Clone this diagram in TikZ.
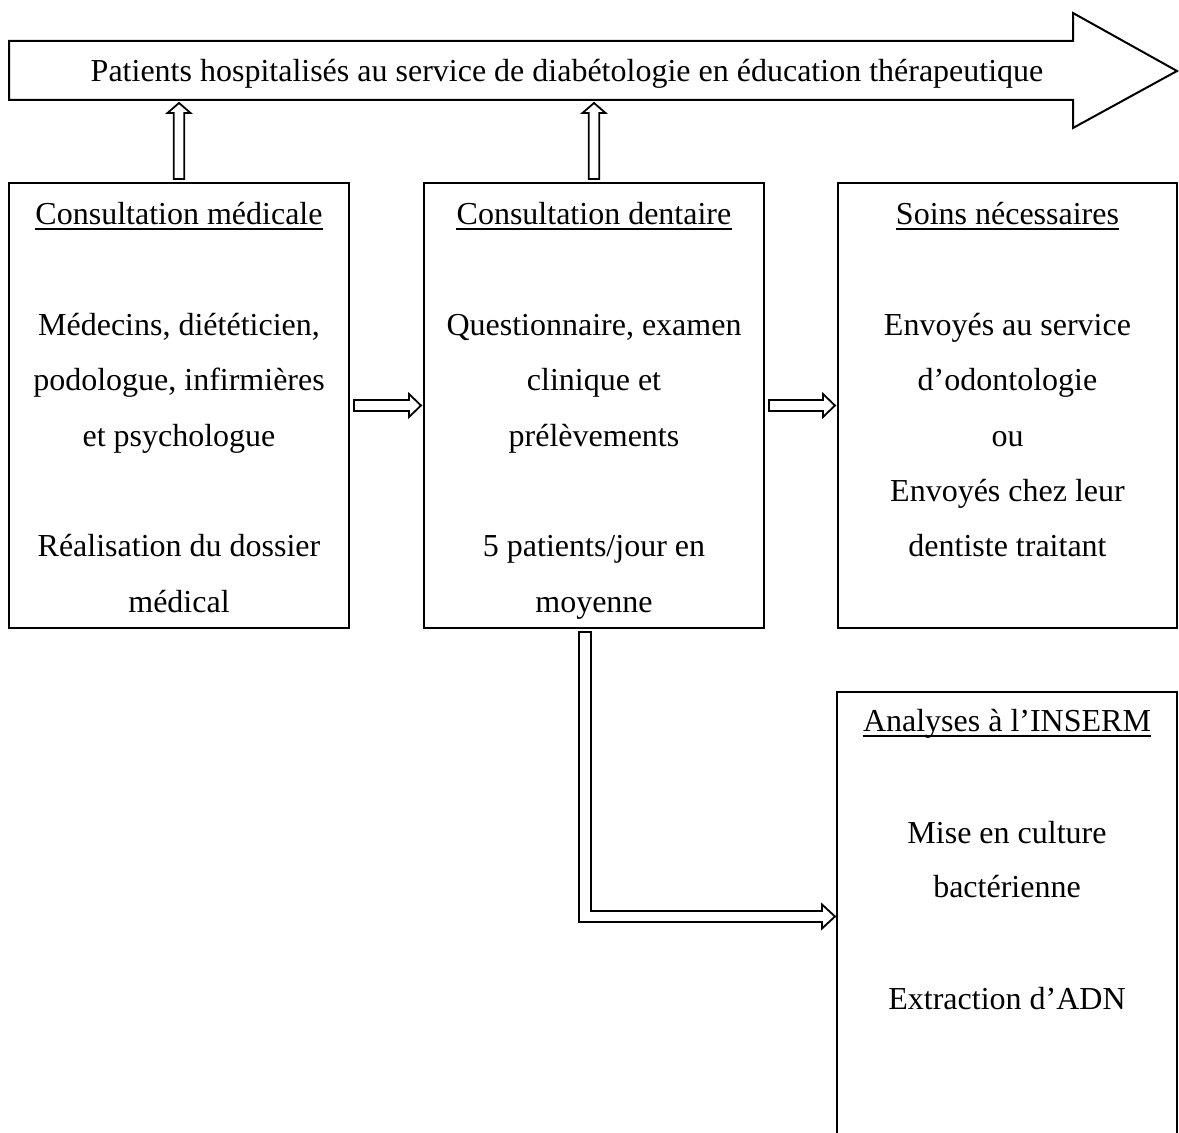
\documentclass[tikz,border=0pt]{standalone}
\usepackage{fontspec}
\setmainfont{Liberation Serif}
\usetikzlibrary{calc}
\begin{document}
\begin{tikzpicture}[x=0.5pt,y=-0.5pt,line join=miter,
  box/.style={draw,line width=1pt,minimum width=170pt,minimum height=222.5pt,inner sep=0pt},
  txt/.style={inner sep=0pt,font=\fontsize{16}{19}\selectfont,anchor=base},
  uline/.style={line width=0.7pt},
  blk/.style={draw,line width=0.9pt,fill=white}]
\useasboundingbox (0,0) rectangle (1179,1133);
\clip (0,0) rectangle (1179,1133);

% top arrow
\draw[line width=1pt] (9,41) -- (1073,41) -- (1073,13) -- (1177,71) -- (1073,128) -- (1073,100) -- (9,100) -- cycle;
\node[txt] (pat) at (567,82) {Patients hospitalisés au service de diabétologie en éducation thérapeutique};
\coordinate (topedge) at (0,100);

% boxes
\node[box] (b1) at (179,405.5) {};
\node[box] (b2) at (594,405.5) {};
\node[box,minimum width=169.5pt] (b3) at (1007.5,405.5) {};
\node[box,minimum height=228pt] (b4) at (1007,920) {};

% box 1
\node[txt] (t1) at (179,225) {Consultation médicale};
\draw[uline] ([yshift=-2pt]t1.base west) -- ([yshift=-2pt]t1.base east);
\node[txt] (a1) at (179,335.6) {Médecins, diététicien,};
\node[txt] (a2) at (179,391) {podologue, infirmières};
\node[txt] (a3) at (179,446.3) {et psychologue};
\node[txt] (a4) at (179,557) {Réalisation du dossier};
\node[txt] (a5) at (179,612.3) {médical};

% box 2
\node[txt] (t2) at (594,225) {Consultation dentaire};
\draw[uline] ([yshift=-2pt]t2.base west) -- ([yshift=-2pt]t2.base east);
\node[txt] (c1) at (594,335.6) {Questionnaire, examen};
\node[txt] (c2) at (594,391) {clinique et};
\node[txt] (c3) at (594,446.3) {prélèvements};
\node[txt] (c4) at (594,557) {5 patients/jour en};
\node[txt] (c5) at (594,612.3) {moyenne};

% box 3
\node[txt] (t3) at (1007.5,225) {Soins nécessaires};
\draw[uline] ([yshift=-2pt]t3.base west) -- ([yshift=-2pt]t3.base east);
\node[txt] (s1) at (1007.5,335.6) {Envoyés au service};
\node[txt] (s2) at (1007.5,391) {d’odontologie};
\node[txt] (s3) at (1007.5,446.3) {ou};
\node[txt] (s4) at (1007.5,501.6) {Envoyés chez leur};
\node[txt] (s5) at (1007.5,557) {dentiste traitant};

% box 4
\node[txt] (t4) at (1007,732) {Analyses à l’INSERM};
\draw[uline] ([yshift=-2pt]t4.base west) -- ([yshift=-2pt]t4.base east);
\node[txt] (i1) at (1007,843) {Mise en culture};
\node[txt] (i2) at (1007,898) {bactérienne};
\node[txt] (i3) at (1007,1009) {Extraction d’ADN};

% up arrows
\foreach \b in {b1,b2}{
  \draw[blk] let \p1=([yshift=1.5pt]\b.north), \p2=($(\b.north |- topedge)+(0,3)$) in
    (\x1-2.6pt,\y1) -- (\x1-2.6pt,\y2-5pt) -- (\x1-5.75pt,\y2-5pt) -- (\x1,\y2)
    -- (\x1+5.75pt,\y2-5pt) -- (\x1+2.6pt,\y2-5pt) -- (\x1+2.6pt,\y1) -- cycle;
}

% right arrows
\draw[blk] let \p1=([xshift=2pt]b1.east), \p2=([xshift=-1pt]b2.west) in
  (\x1,\y1+2.75pt) -- (\x2-6pt,\y1+2.75pt) -- (\x2-6pt,\y1+5.75pt) -- (\x2,\y1)
  -- (\x2-6pt,\y1-5.75pt) -- (\x2-6pt,\y1-2.75pt) -- (\x1,\y1-2.75pt) -- cycle;
\draw[blk] let \p1=([xshift=2pt]b2.east), \p2=([xshift=-1pt]b3.west) in
  (\x1,\y1+2.75pt) -- (\x2-6pt,\y1+2.75pt) -- (\x2-6pt,\y1+5.75pt) -- (\x2,\y1)
  -- (\x2-6pt,\y1-5.75pt) -- (\x2-6pt,\y1-2.75pt) -- (\x1,\y1-2.75pt) -- cycle;

% L-shaped arrow
\coordinate (lturn) at (585,916.5);
\draw[blk] let \p1=([xshift=-4.5pt,yshift=-1.5pt]b2.south), \p2=($(lturn -| b4.west)+(-1,0)$) in
  (\x1-3pt,\y1) -- (\x1-3pt,\y2-2.75pt) -- (\x2-6.5pt,\y2-2.75pt) -- (\x2-6.5pt,\y2-6pt) -- (\x2,\y2)
  -- (\x2-6.5pt,\y2+6pt) -- (\x2-6.5pt,\y2+2.75pt) -- (\x1+3pt,\y2+2.75pt) -- (\x1+3pt,\y1) -- cycle;
\end{tikzpicture}
\end{document}
